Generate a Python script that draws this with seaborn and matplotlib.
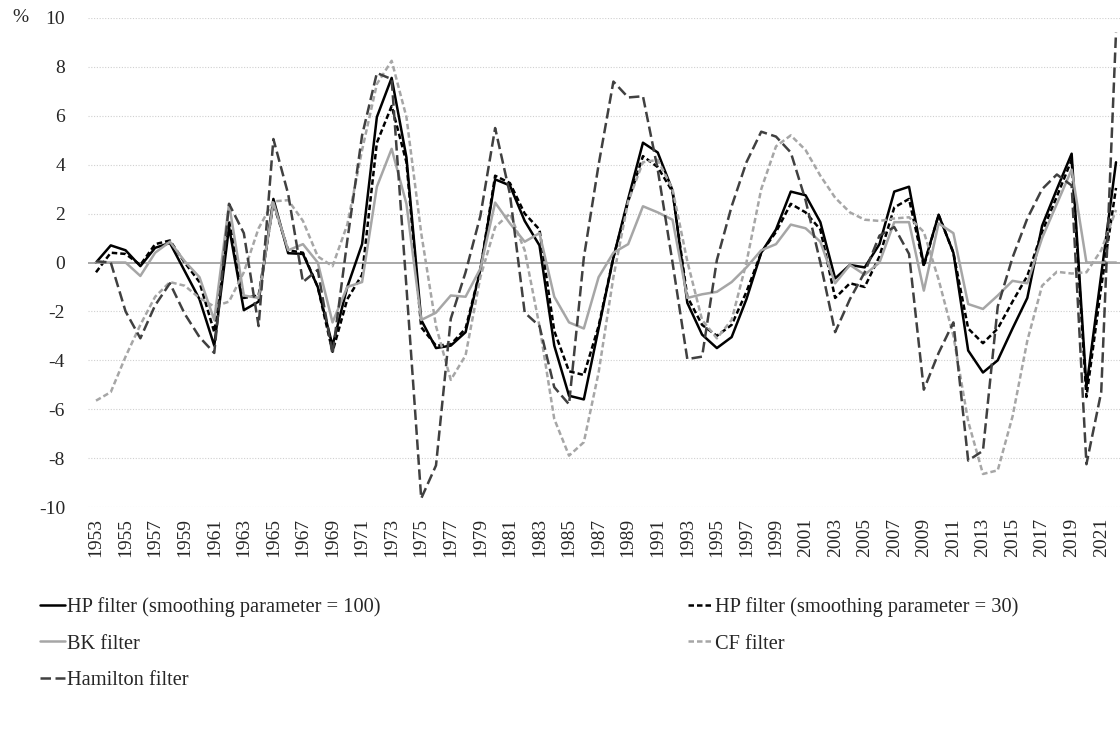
import numpy as np
import matplotlib
matplotlib.use("Agg")
import matplotlib.pyplot as plt
import seaborn as sns

# Output gap estimates by filter, 1953-2022 (%)
years = list(range(1953, 2023))

hp100 = [0.0, 0.7, 0.5, -0.15, 0.6, 0.8, -0.35, -1.5, -3.4, 1.45,
         -1.95, -1.6, 2.6, 0.38, 0.35, -1.0, -3.4, -1.0, 0.75, 5.95,
         7.55, 4.3, -2.35, -3.5, -3.4, -2.85, -0.3, 3.4, 3.15, 1.7,
         0.7, -3.4, -5.45, -5.6, -2.7, 0.2, 2.6, 4.9, 4.5, 2.95,
         -1.65, -2.95, -3.5, -3.05, -1.5, 0.4, 1.35, 2.9, 2.75, 1.65,
         -0.65, -0.1, -0.2, 0.75, 2.9, 3.1, -0.1, 1.95, 0.4, -3.6,
         -4.5, -4.0, -2.7, -1.45, 1.5, 3.0, 4.45, -5.1, -0.5, 4.1]

hp30 = [-0.4, 0.4, 0.35, -0.1, 0.75, 0.9, 0.0, -0.8, -2.85, 1.7,
        -1.45, -1.35, 2.4, 0.5, 0.4, -1.0, -3.65, -1.5, -0.5, 4.9,
        6.4, 4.1, -2.65, -3.4, -3.35, -2.7, -0.3, 3.55, 3.25, 2.0,
        1.35, -2.8, -4.45, -4.6, -2.6, 0.2, 2.5, 4.35, 3.9, 2.9,
        -1.4, -2.55, -3.0, -2.55, -1.2, 0.4, 1.25, 2.4, 2.05, 1.35,
        -1.45, -0.85, -1.0, 0.25, 2.25, 2.6, -0.15, 1.95, 0.4, -2.7,
        -3.3, -2.7, -1.6, -0.55, 1.25, 2.7, 4.2, -5.5, -1.0, 3.05]

bk = [0.0, 0.0, 0.0, -0.55, 0.4, 0.85, 0.05, -0.6, -2.35, 2.4,
      -1.35, -1.45, 2.45, 0.5, 0.75, 0.0, -2.45, -1.0, -0.8, 3.1,
      4.65, 2.4, -2.35, -2.05, -1.35, -1.4, -0.25, 2.45, 1.6, 0.85,
      1.2, -1.4, -2.45, -2.7, -0.6, 0.4, 0.75, 2.3, 2.05, 1.75,
      -1.45, -1.3, -1.2, -0.8, -0.2, 0.5, 0.75, 1.55, 1.4, 0.85,
      -0.85, -0.1, -0.5, 0.0, 1.65, 1.65, -1.15, 1.6, 1.2, -1.7,
      -1.9, -1.35, -0.75, -0.85, 1.0, 2.4, 3.8, 0.0, 0.0, 0.0]

cf = [-5.65, -5.3, -3.85, -2.55, -1.4, -0.8, -0.95, -1.45, -1.8, -1.6,
      -0.4, 1.4, 2.5, 2.55, 1.7, 0.25, -0.15, 1.55, 4.6, 7.3,
      8.25, 5.95, 1.2, -2.6, -4.8, -3.8, -0.6, 1.45, 2.0, 0.5,
      -2.6, -6.4, -7.9, -7.35, -4.5, -0.6, 2.5, 4.1, 4.2, 3.0,
      0.05, -2.35, -3.1, -2.35, 0.0, 3.0, 4.75, 5.2, 4.6, 3.55,
      2.65, 2.05, 1.75, 1.7, 1.8, 1.85, 1.25, -0.7, -3.0, -6.5,
      -8.65, -8.5, -6.3, -3.2, -0.95, -0.38, -0.45, -0.4, 0.5, 2.15]

hamilton = [0.05, 0.0, -2.0, -3.1, -1.75, -0.85, -2.1, -3.05, -3.7, 2.4,
            1.2, -2.6, 5.05, 2.8, -0.8, -0.3, -3.75, 0.9, 5.2, 7.75,
            7.5, -1.0, -9.65, -8.3, -2.3, -0.4, 1.9, 5.5, 2.8, -2.05,
            -2.6, -5.1, -5.8, 0.2, 4.0, 7.4, 6.75, 6.8, 3.8, 0.0,
            -3.95, -3.85, 0.1, 2.3, 4.1, 5.35, 5.15, 4.5, 2.55, 0.0,
            -2.85, -1.5, -0.4, 1.1, 1.45, 0.35, -5.2, -3.7, -2.45, -8.1,
            -7.7, -1.8, 0.2, 1.8, 3.0, 3.6, 3.15, -8.25, -5.3, 9.4]

labels = ["HP filter (smoothing parameter = 100)",
          "HP filter (smoothing parameter = 30)",
          "BK filter", "CF filter", "Hamilton filter"]

sns.set_style("white")
plt.rcParams['font.family'] = ['Liberation Serif', 'DejaVu Serif']
plt.rcParams['axes.unicode_minus'] = False

fig = plt.figure(figsize=(11.2, 7.38), dpi=100)
ax = fig.add_axes([88 / 1120, 1 - 507 / 738, 1 - 88 / 1120, 489 / 738])

# dotted gridlines, solid zero line
for v in range(-10, 11, 2):
    if v == 0:
        continue
    ax.axhline(v, color='#d0d0d0', lw=0.8, ls=(0, (1, 1.5)), zorder=0)
ax.axhline(0, color='#999999', lw=1.2, zorder=1)

styles = [
    dict(color='black', lw=1.8, ls='-'),
    dict(color='black', lw=1.8, ls=(0, (2.2, 1.2))),
    dict(color='#a6a6a6', lw=1.8, ls='-'),
    dict(color='#a6a6a6', lw=1.8, ls=(0, (2.2, 1.2))),
    dict(color='#404040', lw=1.8, ls=(0, (4.2, 1.8))),
]
series = [hp100, hp30, bk, cf, hamilton]
for vals, lab, st in zip(series, labels, styles):
    sns.lineplot(x=years, y=vals, ax=ax, label=lab, color=st['color'],
                 linewidth=st['lw'], linestyle=st['ls'])
lines = ax.get_lines()[-5:]

ax.set_ylim(-10, 10)
ax.set_xlim(1953 - 8 / 14.78, 2022 + 4 / 14.78)
ax.set_yticks(range(-10, 11, 2))
ax.set_xticks(years[::2])
ax.set_xticklabels([str(y) for y in years[::2]], rotation=90)
ax.tick_params(axis='y', length=0, pad=16.5, labelsize=14)
ax.tick_params(axis='x', length=0, pad=8, labelsize=14)
for s in ax.spines.values():
    s.set_visible(False)
ax.set_xlabel('')
ax.set_ylabel('')
fig.text(12 / 1120, 1 - 18 / 738, '%', fontsize=14, va='center', ha='left')

ax.get_legend().remove()
# column-wise order so rows read HP100 | HP30, BK | CF, Hamilton
order = [0, 2, 4, 1, 3]
fig.legend([lines[i] for i in order], [labels[i] for i in order],
           loc='upper left', bbox_to_anchor=(40 / 1120, 1 - 597 / 738),
           ncol=2, frameon=False, fontsize=14.7, handlelength=1.2,
           handletextpad=0.1, labelspacing=0.85, columnspacing=15.1,
           borderaxespad=0, borderpad=0)

fig.savefig('out.png', dpi=100)
